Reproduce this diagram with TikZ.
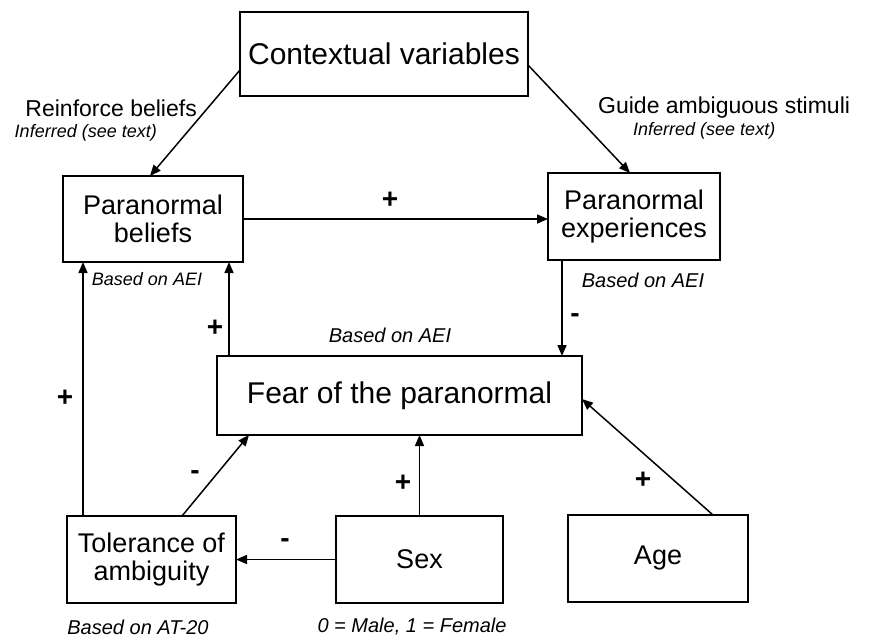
\documentclass[tikz,border=0pt]{standalone}
\usepackage{fontspec}
\setmainfont{Liberation Sans}
\usetikzlibrary{arrows.meta}
\begin{document}
\begin{tikzpicture}[x=1pt,y=-1pt,
  box/.style={draw,line width=1.6pt,inner sep=0pt,outer sep=0pt,align=center,
    font=\fontsize{27}{28}\selectfont},
  conn/.style={line width=1.5pt,-{Triangle[length=11pt,width=9pt]}},
  sign/.style={font=\fontsize{28}{28}\selectfont\bfseries,inner sep=0pt},
  lbl/.style={font=\fontsize{23}{23}\selectfont,inner sep=0pt},
  note/.style={font=\fontsize{20}{20}\selectfont\itshape,inner sep=0pt},
  snote/.style={font=\fontsize{18}{18}\selectfont\itshape,inner sep=0pt}]
\useasboundingbox (0,0) rectangle (874,640);
\node[box,minimum width=288pt,minimum height=84pt,font=\fontsize{30}{30}\selectfont] (ctx) at (384,54) {Contextual variables};
\node[box,minimum width=180pt,minimum height=86pt] (pb) at (153,219) {Paranormal\\beliefs};
\node[box,minimum width=172pt,minimum height=87pt] (pe) at (634,216.5) {Paranormal\\experiences};
\node[box,minimum width=365pt,minimum height=79pt,font=\fontsize{30}{30}\selectfont] (fear) at (399.5,395.5) {Fear of the paranormal};
\node[box,minimum width=169pt,minimum height=87pt] (tol) at (151.5,559.5) {Tolerance of\\ambiguity};
\node[box,minimum width=167pt,minimum height=87pt] (sex) at (419.5,559.5) {Sex};
\node[box,minimum width=180pt,minimum height=87pt] (age) at (658,558.5) {Age};

\draw[conn] ([yshift=-16pt]ctx.west) -- ([xshift=-3pt]pb.north);
\draw[conn] ([yshift=-11pt]ctx.east) -- ([xshift=-4pt]pe.north);
\draw[conn] (pb.east) -- (pb.east -| pe.west);
\draw[conn] ([xshift=-72pt]pe.south) -- ([xshift=-72pt]pe.south |- fear.north);
\draw[conn] ([xshift=76pt]pb.south |- fear.north) -- ([xshift=76pt]pb.south);
\draw[conn] ([xshift=-70pt]pb.south |- tol.north) -- ([xshift=-70pt]pb.south);
\draw[conn] ([xshift=30.5pt]tol.north) -- ([xshift=-150.5pt]fear.south);
\draw[conn] (sex.north) -- (sex.north |- fear.south);
\draw[conn] (sex.west) -- (sex.west -| tol.east);
\draw[conn] ([xshift=55pt]age.north) -- ([yshift=-3.5pt]fear.east);

\node[sign] (s1) at (390,200) {+};
\node[sign] (s2) at (575,318) {-};
\node[sign] (s3) at (215,328) {+};
\node[sign] (s4) at (65,398) {+};
\node[sign] (s5) at (195,475) {-};
\node[sign] (s6) at (403,483) {+};
\node[sign] (s7) at (643,480) {+};
\node[sign] (s8) at (285,543) {-};

\node[lbl,anchor=base east] (l1) at (197,116) {Reinforce beliefs};
\node[snote,anchor=base east] (l2) at (157,137) {Inferred (see text)};
\node[lbl,anchor=base west] (l3) at (598,113) {Guide ambiguous stimuli};
\node[snote,anchor=base west] (l4) at (633,135) {Inferred (see text)};
\node[snote] (n1) at (147,279) {Based on AEI};
\node[note] (n2) at (643,280) {Based on AEI};
\node[note] (n3) at (390,335) {Based on AEI};
\node[note] (n4) at (138,627) {Based on AT-20};
\node[note] (n5) at (412,627) {0 = Male, 1 = Female};
\end{tikzpicture}
\end{document}
